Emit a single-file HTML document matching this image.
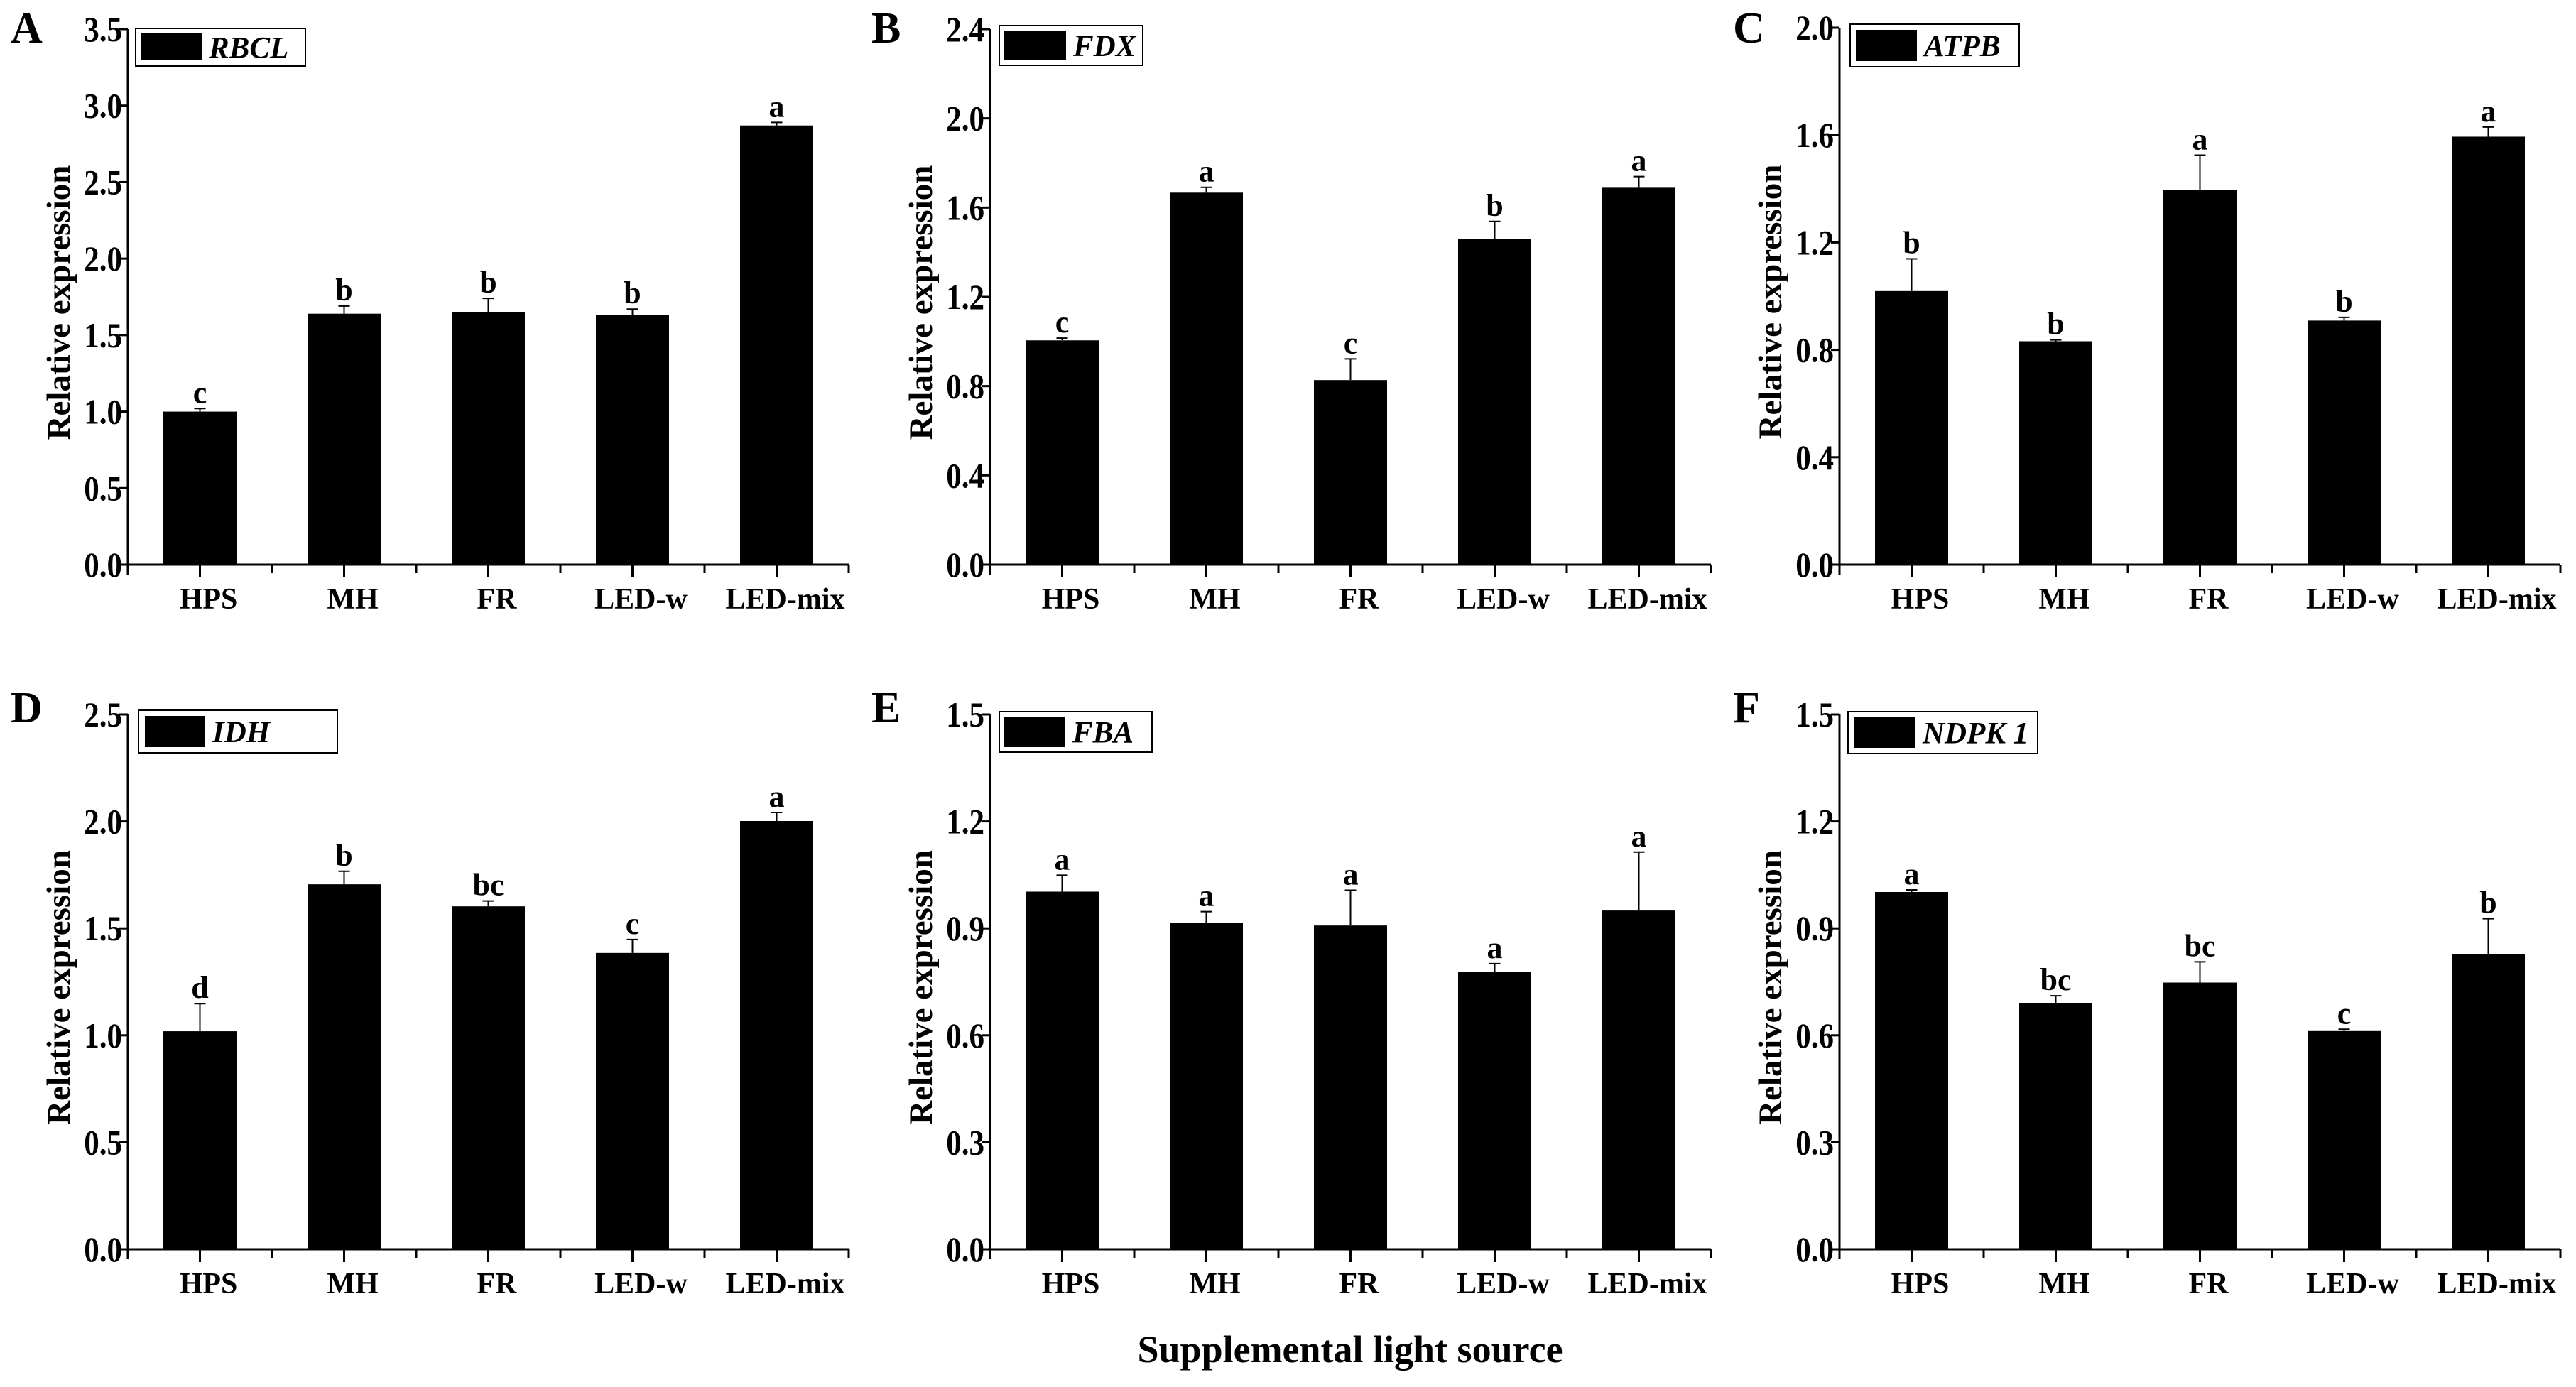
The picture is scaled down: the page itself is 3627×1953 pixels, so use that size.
<!DOCTYPE html>
<html><head><meta charset="utf-8">
<style>
html,body{margin:0;padding:0;background:#fff;}
svg{display:block;font-family:"Liberation Serif","Times New Roman",serif;}
svg text{font-family:"Liberation Serif","Times New Roman",serif;}
</style></head>
<body>
<svg id="fig" width="3627" height="1953" viewBox="0 0 3627 1953" xmlns="http://www.w3.org/2000/svg">
<rect x="0" y="0" width="3627" height="1953" fill="#fff"/>
<text x="1901" y="1918" font-family="Liberation Serif, serif" font-size="54" font-weight="bold" text-anchor="middle">Supplemental light source</text>
</svg>
<script>
const categories = ["HPS","MH","FR","LED-w","LED-mix"];
const panelLetters = ["A","B","C","D","E","F"];
const geneNames = ["RBCL","FDX","ATPB","IDH","FBA","NDPK 1"];
const yMaxes = [3.5,2.4,2.0,2.5,1.5,1.5];
const yTickSteps = [0.5,0.4,0.4,0.5,0.3,0.3];
const valuesA = [1.00,1.64,1.65,1.63,2.87];
const errorsA = [0.02,0.05,0.09,0.04,0.02];
const lettersA = ["c","b","b","b","a"];
const valuesB = [1.005,1.667,0.827,1.46,1.689];
const errorsB = [0.01,0.024,0.095,0.078,0.05];
const lettersB = ["c","a","c","b","a"];
const valuesC = [1.019,0.832,1.395,0.909,1.594];
const errorsC = [0.12,0.005,0.13,0.012,0.036];
const lettersC = ["b","b","a","b","a"];
const valuesD = [1.019,1.706,1.603,1.385,2.002];
const errorsD = [0.129,0.061,0.025,0.063,0.04];
const lettersD = ["d","b","bc","c","a"];
const valuesE = [1.003,0.915,0.908,0.778,0.95];
const errorsE = [0.046,0.032,0.099,0.023,0.164];
const lettersE = ["a","a","a","a","a"];
const valuesF = [1.002,0.69,0.748,0.612,0.827];
const errorsF = [0.006,0.021,0.058,0.005,0.1];
const lettersF = ["a","bc","bc","c","b"];

const allValues=[valuesA,valuesB,valuesC,valuesD,valuesE,valuesF];
const allErrors=[errorsA,errorsB,errorsC,errorsD,errorsE,errorsF];
const allLetters=[lettersA,lettersB,lettersC,lettersD,lettersE,lettersF];

const layout=[
 {x0:180,top:41,base:795,lx:15,ly:60,leg:[191,40,430,93],blk:[198,46,284,84]},
 {x0:1394,top:41,base:795,lx:1227,ly:60,leg:[1407,36,1609,92],blk:[1414,44,1501,84]},
 {x0:2590,top:39,base:795,lx:2440,ly:60,leg:[2605,34,2843,94],blk:[2613,42,2699,86]},
 {x0:180,top:1006,base:1759,lx:15,ly:1017,leg:[195,1000,475,1060],blk:[204,1008,289,1052]},
 {x0:1394,top:1006,base:1759,lx:1227,ly:1017,leg:[1407,1002,1622,1059],blk:[1414,1009,1500,1052]},
 {x0:2590,top:1006,base:1759,lx:2440,ly:1017,leg:[2602,1002,2869,1061],blk:[2611,1009,2697,1053]}
];
const catW=203, barW=103;
const FF='Liberation Serif, Times New Roman, serif';
const NS="http://www.w3.org/2000/svg";
const svg=document.getElementById('fig');
function mk(tag,attrs,parent){const e=document.createElementNS(NS,tag);for(const k in attrs)e.setAttribute(k,attrs[k]);if(tag==='text')e.setAttribute('font-family',FF);(parent||svg).appendChild(e);return e;}

layout.forEach((L,p)=>{
  const g=mk('g',{});
  
  
  const ymax=yMaxes[p];
  const yScale=v=>L.base-(v/ymax)*(L.base-L.top);
  const xBand=i=>L.x0+catW*i;
  const xEnd=L.x0+catW*categories.length;
  const pl=mk('text',{x:L.lx,y:L.ly,'font-size':62,'font-weight':'bold'},g);
  pl.textContent=panelLetters[p];
  
  
  allValues[p].forEach((v,i)=>{
    const cx=xBand(i)+catW/2;
    const yt=yScale(v);
    const b=mk('rect',{x:cx-barW/2,y:yt,width:barW,height:L.base-yt,fill:'#000'},g);
    
    
    const ye=yScale(v+allErrors[p][i]);
    const eb=mk('path',{d:`M${cx} ${yt} V${ye} M${cx-8} ${ye} H${cx+8}`,stroke:'#000','stroke-width':2,fill:'none'},g);
    
    
    const t=mk('text',{x:cx,y:ye-8,'font-size':44,'font-weight':'bold','text-anchor':'middle'},g);
    t.textContent=allLetters[p][i];
    
    
  });
  const ax=mk('path',{d:`M${L.x0} ${L.top} V${L.base+14} M${L.x0} ${L.base} H${xEnd}`,stroke:'#000','stroke-width':3,fill:'none'},g);
  
  
  for(let i=0;i<=categories.length;i++){
    const tk=mk('line',{x1:xBand(i),x2:xBand(i),y1:L.base,y2:L.base+12,stroke:'#000','stroke-width':3},g);
    
    
  }
  categories.forEach((c,i)=>{
    const cx=xBand(i)+catW/2;
    const tk=mk('line',{x1:cx,x2:cx,y1:L.base,y2:L.base+18,stroke:'#000','stroke-width':3},g);
    
    
    const t=mk('text',{x:cx+12,y:L.base+62,'font-size':42,'font-weight':'bold','text-anchor':'middle'},g);
    t.textContent=c;
    
    
  });
  const step=yTickSteps[p];
  const n=Math.round(ymax/step);
  for(let k=0;k<=n;k++){
    const v=k*step, y=yScale(v);
    const tk=mk('line',{x1:L.x0-12,x2:L.x0,y1:y,y2:y,stroke:'#000','stroke-width':3},g);
    
    
    const tx=L.x0-8;
    const t=mk('text',{x:tx,y:y+17,'font-size':50,'font-weight':'bold','text-anchor':'end',transform:`translate(${tx} 0) scale(0.86 1) translate(${-tx} 0)`},g);
    t.textContent=v.toFixed(1);
    
    
  }
  const ym=(L.top+L.base)/2+8;
  const yx=L.x0-82;
  const yt=mk('text',{x:yx,y:ym,'font-size':47,'font-weight':'bold','text-anchor':'middle',transform:`rotate(-90 ${yx} ${ym})`},g);
  yt.textContent='Relative expression';
  
  
  const [a,b,c,d]=L.leg;
  const lb=mk('rect',{x:a,y:b,width:c-a,height:d-b,fill:'#fff',stroke:'#000','stroke-width':2},g);
  
  
  const [e,f,h,k]=L.blk;
  const sw=mk('rect',{x:e,y:f,width:h-e,height:k-f,fill:'#000'},g);
  
  
  const lt=mk('text',{x:h+10,y:(b+d)/2+15,'font-size':43,'font-weight':'bold','font-style':'italic'},g);
  lt.textContent=geneNames[p];
  
  
});
</script>
</body></html>
